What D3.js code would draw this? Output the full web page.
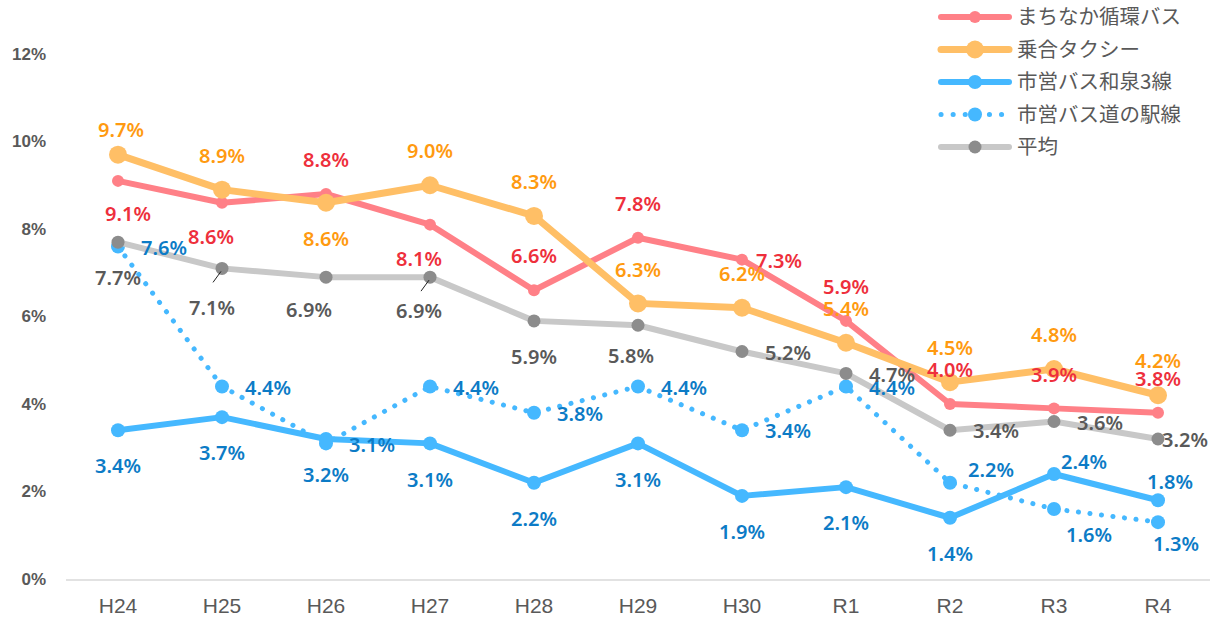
<!DOCTYPE html>
<html>
<head>
    <meta charset="utf-8">
    <title>Line chart</title>
    <script src="https://cdn.jsdelivr.net/npm/d3@7"></script>
    <style>
        body { margin: 0; background: #fff; }
        text { font-family: "Noto Sans CJK JP", "Noto Sans", sans-serif; }
        .tick-y { font-family: "Liberation Sans", Arial, sans-serif; font-weight: bold; font-size: 17px; fill: #595959; }
        .tick-x { font-family: "Liberation Sans Narrow", "Liberation Sans", sans-serif; font-size: 21px; fill: #595959; font-stretch: condensed; }
        .lbl { font-family: "Noto Sans", sans-serif; font-weight: 600; font-size: 20px; }
        .legend text { font-size: 20.5px; fill: #595959; }
    </style>
</head>
<body>
<script>
// categories and values (percent)
var years = ["H24", "H25", "H26", "H27", "H28", "H29", "H30", "R1", "R2", "R3", "R4"];
var yTicks = [0, 2, 4, 6, 8, 10, 12];

var machinaka = [9.1, 8.6, 8.8, 8.1, 6.6, 7.8, 7.3, 5.9, 4.0, 3.9, 3.8];
var noriai    = [9.7, 8.9, 8.6, 9.0, 8.3, 6.3, 6.2, 5.4, 4.5, 4.8, 4.2];
var izumi     = [3.4, 3.7, 3.2, 3.1, 2.2, 3.1, 1.9, 2.1, 1.4, 2.4, 1.8];
var michinoeki = [7.6, 4.4, 3.1, 4.4, 3.8, 4.4, 3.4, 4.4, 2.2, 1.6, 1.3];
var heikin    = [7.7, 7.1, 6.9, 6.9, 5.9, 5.8, 5.2, 4.7, 3.4, 3.6, 3.2];

// where each data label sits relative to its point
var labelPos = {
    machinaka:  ["br", "bl", "t", "bl", "t", "t", "rn", "t", "t", "t", "t"],
    noriai:     ["tn", "t", "b", "t", "t", "t", "t", "t", "t", "t", "t"],
    izumi:      ["b", "b", "b", "b", "b", "b", "b", "b", "b", "ta", "tr"],
    michinoeki: ["r", "r", "r", "r", "r", "r", "r", "r", "ra", "rb", "rb2"],
    heikin:     ["b", "bl2", "bL", "bl", "b", "bw", "r", "r", "r", "r", "rc"]
};
var leaderAt = ["H25", "H27"];   // gray labels with a leader line

var offsets = {
    t:   {dx: 0,   dy: -34, a: "middle"},
    tn:  {dx: 3,   dy: -25, a: "middle"},
    b:   {dx: 0,   dy: 36,  a: "middle"},
    br:  {dx: 10,  dy: 33,  a: "middle"},
    bl:  {dx: -11, dy: 34,  a: "middle"},
    bl2: {dx: -10, dy: 39,  a: "middle"},
    bL:  {dx: -17, dy: 33,  a: "middle"},
    bw:  {dx: -7,  dy: 31,  a: "middle"},
    r:   {dx: 23,  dy: 1,   a: "start"},
    rn:  {dx: 14,  dy: 1,   a: "start"},
    rc:  {dx: 4,   dy: 1,   a: "start"},
    ra:  {dx: 18,  dy: -13, a: "start"},
    ta:  {dx: 7,   dy: -12, a: "start"},
    tr:  {dx: 12,  dy: -18, a: "middle"},
    rb:  {dx: 35,  dy: 26,  a: "middle"},
    rb2: {dx: 18,  dy: 22,  a: "middle"}
};

var series = [
    {key: "machinaka", name: "まちなか循環バス", values: machinaka, line: "#FF8087", label: "#EE2F3C", r: 6, w: 6},
    {key: "noriai", name: "乗合タクシー", values: noriai, line: "#FFBF66", label: "#FF9A10", r: 9, w: 7},
    {key: "izumi", name: "市営バス和泉3線", values: izumi, line: "#45B8FF", label: "#0C7BC6", r: 7, w: 6},
    {key: "michinoeki", name: "市営バス道の駅線", values: michinoeki, line: "#45B8FF", label: "#0C7BC6", r: 7, w: 5, dotted: true},
    {key: "heikin", name: "平均", values: heikin, line: "#C8C8C8", marker: "#8C8C8C", label: "#595959", r: 6.5, w: 6}
];

var width = 1217, height = 623;
var svg = d3.select("body").append("svg")
    .attr("width", width)
    .attr("height", height);

var x = d3.scaleBand().domain(years).range([66, 1210]);
var y = d3.scaleLinear().domain([0, 12]).range([579, 54]);
function cx(i) { return x(years[i]) + x.bandwidth() / 2; }

// axes
svg.append("line")
    .attr("x1", 66).attr("x2", 1210)
    .attr("y1", y(0) + 1).attr("y2", y(0) + 1)
    .attr("stroke", "#D9D9D9").attr("stroke-width", 1.5);

svg.selectAll("text.tick-y")
    .data(yTicks)
    .enter().append("text")
    .attr("class", "tick-y")
    .attr("x", 46)
    .attr("y", function (d) { return y(d); })
    .attr("dy", "0.35em")
    .attr("text-anchor", "end")
    .text(function (d) { return d + "%"; });

svg.selectAll("text.tick-x")
    .data(years)
    .enter().append("text")
    .attr("class", "tick-x")
    .attr("x", function (d) { return x(d) + x.bandwidth() / 2; })
    .attr("y", 606)
    .attr("dy", "0.35em")
    .attr("text-anchor", "middle")
    .text(function (d) { return d; });

// lines + markers
var line = d3.line()
    .x(function (d, i) { return cx(i); })
    .y(function (d) { return y(d); });

series.forEach(function (s) {
    var g = svg.append("g");
    var p = g.append("path")
        .attr("d", line(s.values))
        .attr("fill", "none")
        .attr("stroke", s.line)
        .attr("stroke-width", s.w)
        .attr("stroke-linejoin", "round")
        .attr("stroke-linecap", "round");
    if (s.dotted) p.attr("stroke-dasharray", "0.1 11.5");

    g.selectAll("circle")
        .data(s.values)
        .enter().append("circle")
        .attr("cx", function (d, i) { return cx(i); })
        .attr("cy", function (d) { return y(d); })
        .attr("r", s.r)
        .attr("fill", s.marker || s.line);
});

// leader lines for the average series
leaderAt.forEach(function (yr) {
    var i = years.indexOf(yr);
    var px = cx(i), py = y(heikin[i]);
    svg.append("line")
        .attr("x1", px - 9).attr("y1", py + 14)
        .attr("x2", px - 1).attr("y2", py + 3)
        .attr("stroke", "#222").attr("stroke-width", 1);
});

// data labels
series.forEach(function (s) {
    svg.append("g").selectAll("text")
        .data(s.values)
        .enter().append("text")
        .attr("class", "lbl")
        .attr("fill", s.label)
        .each(function (d, i) {
            var o = offsets[labelPos[s.key][i]];
            d3.select(this)
                .attr("x", cx(i) + o.dx)
                .attr("y", y(d) + o.dy)
                .attr("dy", "0.36em")
                .attr("text-anchor", o.a);
        })
        .text(function (d) { return d.toFixed(1) + "%"; });
});

// legend
var legend = svg.append("g").attr("class", "legend");
series.forEach(function (s, i) {
    var ly = 17 + i * 32.5;
    var row = legend.append("g");
    var l = row.append("line")
        .attr("x1", 941).attr("x2", 1009)
        .attr("y1", ly).attr("y2", ly)
        .attr("stroke", s.line)
        .attr("stroke-width", s.w)
        .attr("stroke-linecap", "round");
    if (s.dotted) l.attr("stroke-dasharray", "0.1 12");
    row.append("circle")
        .attr("cx", 975).attr("cy", ly)
        .attr("r", s.r)
        .attr("fill", s.marker || s.line);
    row.append("text")
        .attr("x", 1017).attr("y", ly)
        .attr("dy", "0.35em")
        .text(s.name);
});
</script>
</body>
</html>
